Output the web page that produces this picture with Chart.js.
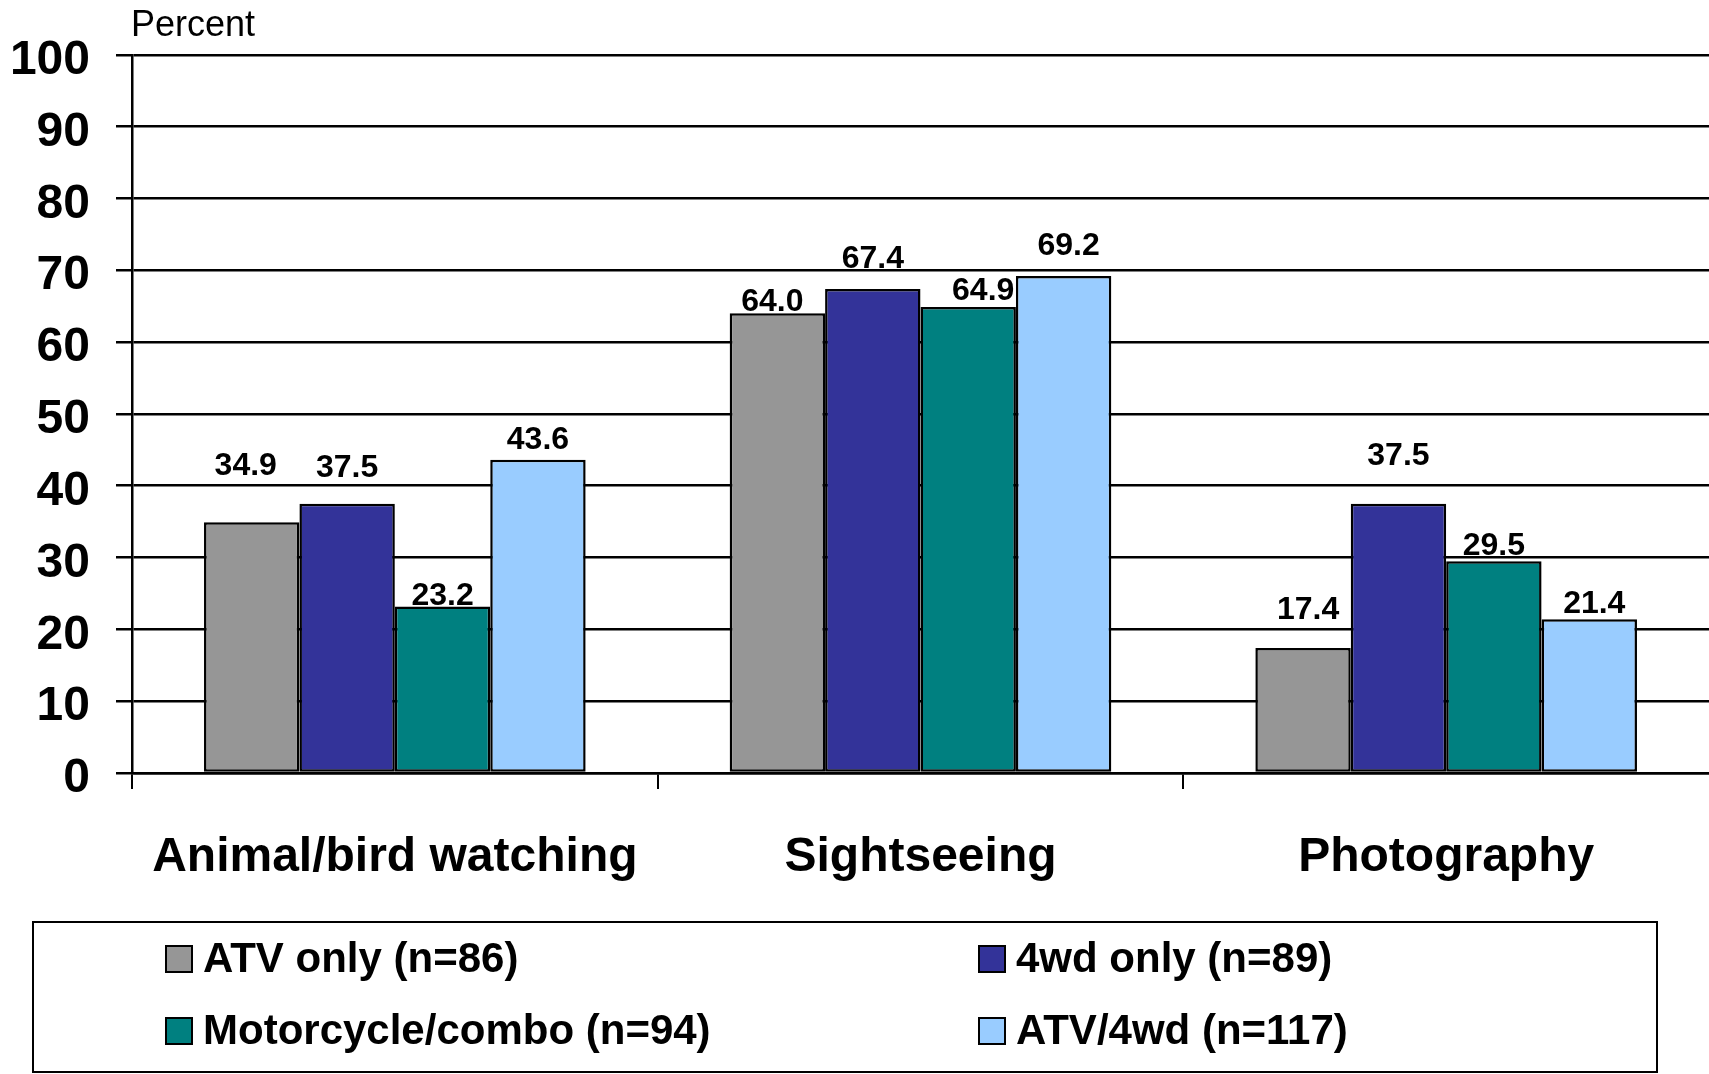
<!DOCTYPE html>
<html>
<head>
<meta charset="utf-8">
<script src="https://cdn.jsdelivr.net/npm/chart.js@4.4.1/dist/chart.umd.min.js"></script>
<style>
    html, body { margin: 0; padding: 0; background: #fff; }
    canvas { display: block; }
</style>
</head>
<body>
<canvas id="activityChart" width="1709" height="1074"></canvas>
<script>
// Activities by vehicle group, percent of respondents
const activities = ["Animal/bird watching", "Sightseeing", "Photography"];
const groupNames = ["ATV only (n=86)", "4wd only (n=89)", "Motorcycle/combo (n=94)", "ATV/4wd (n=117)"];
const atvOnly = [34.9, 64.0, 17.4];
const fourWdOnly = [37.5, 67.4, 37.5];
const motorcycleCombo = [23.2, 64.9, 29.5];
const atvFourWd = [43.6, 69.2, 21.4];
const yMin = 0;
const yMax = 100;
const yStep = 10;

const groupColors = ["#969696", "#333399", "#008080", "#99CCFF"];
const FONT = "'Liberation Sans', Arial, sans-serif";

// value labels sit above the bars; a few were nudged by hand (dx, lift in px)
const labelNudge = [
    [[-6, 47], [-5, 2], [5, 29]],
    [[0, 27], [0, 21], [0, 39]],
    [[0, 1], [15, 7], [0, 6]],
    [[0, 11], [5, 21], [5, 6]]
];

const valueLabels = {
    id: "valueLabels",
    afterDatasetsDraw(chart) {
        const ctx = chart.ctx;
        ctx.save();
        ctx.font = "bold 32px " + FONT;
        ctx.fillStyle = "#000";
        ctx.textAlign = "center";
        ctx.textBaseline = "alphabetic";
        chart.data.datasets.forEach((ds, i) => {
            chart.getDatasetMeta(i).data.forEach((bar, j) => {
                let n = labelNudge[i][j];
                ctx.fillText(ds.data[j].toFixed(1), bar.x + n[0], bar.y - n[1]);
            });
        });
        ctx.restore();
    }
};

const axisCaption = {
    id: "axisCaption",
    afterDraw(chart) {
        const ctx = chart.ctx;
        ctx.save();
        ctx.font = "36px " + FONT;
        ctx.fillStyle = "#000";
        ctx.textAlign = "left";
        ctx.textBaseline = "alphabetic";
        ctx.fillText("Percent", chart.chartArea.left - 1, 36);
        ctx.restore();
    }
};

// boxed two-column legend under the axis
const boxLegend = {
    id: "boxLegend",
    afterDraw(chart) {
        const ctx = chart.ctx;
        const top = chart.scales.x.bottom;
        ctx.save();
        ctx.strokeStyle = "#000";
        ctx.lineWidth = 2;
        ctx.strokeRect(33, top + 1, 1624, chart.height - top - 3);
        ctx.font = "bold 42px " + FONT;
        ctx.textBaseline = "middle";
        ctx.textAlign = "left";
        const cols = [166, 979];
        const rows = [top + 38, top + 110];
        chart.data.datasets.forEach((ds, i) => {
            let x = cols[i % 2];
            let y = rows[Math.floor(i / 2)];
            ctx.fillStyle = ds.backgroundColor;
            ctx.fillRect(x, y - 13, 26, 26);
            ctx.lineWidth = 2;
            ctx.strokeRect(x, y - 13, 26, 26);
            ctx.fillStyle = "#000";
            ctx.fillText(ds.label, x + 37, y + 1);
        });
        ctx.restore();
    }
};

const seriesValues = [atvOnly, fourWdOnly, motorcycleCombo, atvFourWd];

new Chart(document.getElementById("activityChart"), {
    type: "bar",
    data: {
        labels: activities,
        datasets: seriesValues.map((vals, i) => ({
            label: groupNames[i],
            data: vals,
            backgroundColor: groupColors[i],
            borderColor: "#000",
            borderWidth: 2.5,
            borderSkipped: false,
            barPercentage: 1,
            categoryPercentage: 0.726
        }))
    },
    options: {
        responsive: false,
        animation: false,
        layout: {
            padding: { top: 53, right: 0, bottom: 153, left: 0 }
        },
        plugins: {
            legend: { display: false },
            tooltip: { enabled: false }
        },
        scales: {
            x: {
                afterFit(scale) { scale.height = 148; },
                grid: {
                    offset: true,
                    drawOnChartArea: false,
                    drawTicks: true,
                    tickLength: 16,
                    color: "#000",
                    // the closing boundary tick falls past the canvas edge
                    lineWidth: (c) => c.type === "tick" ? 2 : 0
                },
                border: { display: true, color: "#000", width: 2.5 },
                ticks: {
                    color: "#000",
                    padding: 40,
                    font: { family: FONT, size: 48, weight: "bold" }
                }
            },
            y: {
                min: yMin,
                max: yMax,
                afterFit(scale) { scale.width = 132; },
                grid: {
                    color: "#000",
                    lineWidth: 2.5,
                    drawTicks: true,
                    tickLength: 16
                },
                border: { display: true, color: "#000", width: 2.5 },
                ticks: {
                    stepSize: yStep,
                    color: "#000",
                    padding: 26,
                    labelOffset: 6,
                    font: { family: FONT, size: 48, weight: "bold" }
                }
            }
        }
    },
    plugins: [valueLabels, axisCaption, boxLegend]
});
</script>
</body>
</html>
